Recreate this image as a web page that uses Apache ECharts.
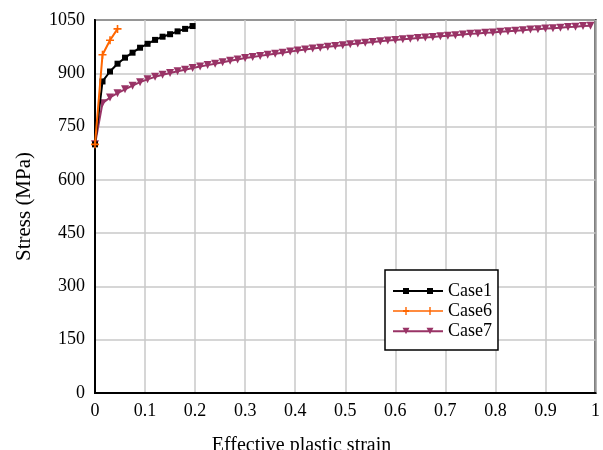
<!DOCTYPE html>
<html>
<head>
<meta charset="utf-8">
<script src="https://cdn.jsdelivr.net/npm/echarts@6/dist/echarts.min.js"></script>
<style>html,body{margin:0;padding:0;background:#fff}#c{width:603px;height:450px}</style>
</head>
<body>
<div id="c"></div>
<script>
const seriesNames = ['Case1', 'Case6', 'Case7'];
const xTickLabels = ['0', '0.1', '0.2', '0.3', '0.4', '0.5', '0.6', '0.7', '0.8', '0.9', '1'];
const yTickLabels = ['0', '150', '300', '450', '600', '750', '900', '1050'];

const case1Strain = [0, 0.015, 0.03, 0.045, 0.06, 0.075, 0.09, 0.105, 0.12, 0.135, 0.15, 0.165, 0.18, 0.195];
const case1Stress = [700, 877, 905, 927, 944, 958, 972, 983, 994, 1003, 1010, 1018, 1025, 1033];

const case6Strain = [0, 0.015, 0.03, 0.045];
const case6Stress = [700, 952, 993, 1025];

const case7Strain = [0, 0.015, 0.03, 0.045, 0.06, 0.075, 0.09, 0.105, 0.12, 0.135,
  0.15, 0.165, 0.18, 0.195, 0.21, 0.225, 0.24, 0.255, 0.27, 0.285,
  0.3, 0.315, 0.33, 0.345, 0.36, 0.375, 0.39, 0.405, 0.42, 0.435,
  0.45, 0.465, 0.48, 0.495, 0.51, 0.525, 0.54, 0.555, 0.57, 0.585,
  0.6, 0.615, 0.63, 0.645, 0.66, 0.675, 0.69, 0.705, 0.72, 0.735,
  0.75, 0.765, 0.78, 0.795, 0.81, 0.825, 0.84, 0.855, 0.87, 0.885,
  0.9, 0.915, 0.93, 0.945, 0.96, 0.975, 0.99];
const case7Stress = [700, 816, 832, 844, 855, 865, 875, 883, 890, 896,
  901, 906, 910, 915, 919, 923, 927, 931, 935, 939,
  943, 946, 949, 952, 955, 958, 961, 964, 967, 970,
  972, 975, 977, 979, 982, 984, 986, 988, 990, 992,
  994, 996, 997, 999, 1001, 1002, 1004, 1006, 1007, 1009,
  1011, 1012, 1014, 1015, 1017, 1018, 1020, 1021, 1023, 1024,
  1026, 1027, 1028, 1030, 1031, 1033, 1034];

const pairs = (xs, ys) => xs.map((x, i) => [x, ys[i]]);
const FONT = 'Liberation Serif';

const icon1 = 'path://M0,4L50,4L50,6L0,6Z M10,2L16,2L16,8L10,8Z M34,2L40,2L40,8L34,8Z';
const icon6 = 'path://M0,4.2L50,4.2L50,5.8L0,5.8Z M12.3,1L13.7,1L13.7,9L12.3,9Z M36.3,1L37.7,1L37.7,9L36.3,9Z M10,4L16,4L16,6L10,6Z';
const icon7 = 'path://M0,4L50,4L50,6L0,6Z M9.5,1.5L16.5,1.5L13,8Z M33.5,1.5L40.5,1.5L37,8Z';
const plusSym = 'path://M4,0L6,0L6,4L10,4L10,6L6,6L6,10L4,10L4,6L0,6L0,4L4,4Z';
const triSym = 'path://M0,0L10,0L5,9Z';

const chart = echarts.init(document.getElementById('c'), null, {renderer: 'canvas'});
chart.setOption({
  animation: false,
  backgroundColor: '#fff',
  textStyle: {fontFamily: FONT, color: '#000'},
  title: {
    text: 'Effective plastic strain', left: 'center', top: 431,
    textStyle: {fontFamily: FONT, fontSize: 20, fontWeight: 'normal', color: '#000'}
  },
  grid: {left: 95, right: 5, top: 20, bottom: 57, show: true, borderColor: '#000', borderWidth: 2, backgroundColor: 'transparent'},
  legend: {
    orient: 'vertical', left: 385, top: 270,
    padding: [12, 6, 10, 8], itemGap: 2, itemWidth: 50, itemHeight: 10, itemTextGap: 9,
    borderColor: '#000', borderWidth: 1.5, backgroundColor: '#fff',
    textStyle: {fontFamily: FONT, fontSize: 18, color: '#000'},
    data: [
      {name: seriesNames[0], icon: icon1},
      {name: seriesNames[1], icon: icon6},
      {name: seriesNames[2], icon: icon7}
    ]
  },
  xAxis: {
    type: 'value', min: 0, max: 1, interval: 0.1,
    axisLine: {show: true, lineStyle: {color: '#000', width: 2}},
    axisTick: {show: false},
    splitLine: {show: true, lineStyle: {color: '#c8c8c8', width: 1.5}},
    axisLabel: {fontFamily: FONT, fontSize: 18, color: '#000', margin: 9,
      formatter: (v) => xTickLabels[Math.round(v * 10)]}
  },
  yAxis: {
    type: 'value', min: 0, max: 1050, interval: 150,
    name: 'Stress (MPa)', nameLocation: 'middle', nameGap: 60,
    nameTextStyle: {fontFamily: FONT, fontSize: 21, color: '#000'},
    axisLine: {show: true, lineStyle: {color: '#000', width: 2}},
    axisTick: {show: false},
    splitLine: {show: true, lineStyle: {color: '#c8c8c8', width: 1.5}},
    axisLabel: {fontFamily: FONT, fontSize: 18, color: '#000', margin: 10,
      formatter: (v) => yTickLabels[Math.round(v / 150)]}
  },
  series: [
    {name: seriesNames[0], type: 'line', data: pairs(case1Strain, case1Stress),
      symbol: 'rect', symbolSize: 6, showAllSymbol: true,
      lineStyle: {color: '#000', width: 2}, itemStyle: {color: '#000'}, z: 3},
    {name: seriesNames[1], type: 'line', data: pairs(case6Strain, case6Stress),
      symbol: plusSym, symbolSize: 8, showAllSymbol: true,
      lineStyle: {color: '#ff6600', width: 2}, itemStyle: {color: '#ff6600'}, z: 4},
    {name: seriesNames[2], type: 'line', data: pairs(case7Strain, case7Stress),
      symbol: triSym, symbolSize: 8, showAllSymbol: true,
      lineStyle: {color: '#993366', width: 2}, itemStyle: {color: '#993366'}, z: 2}
  ]
});
</script>
</body>
</html>
